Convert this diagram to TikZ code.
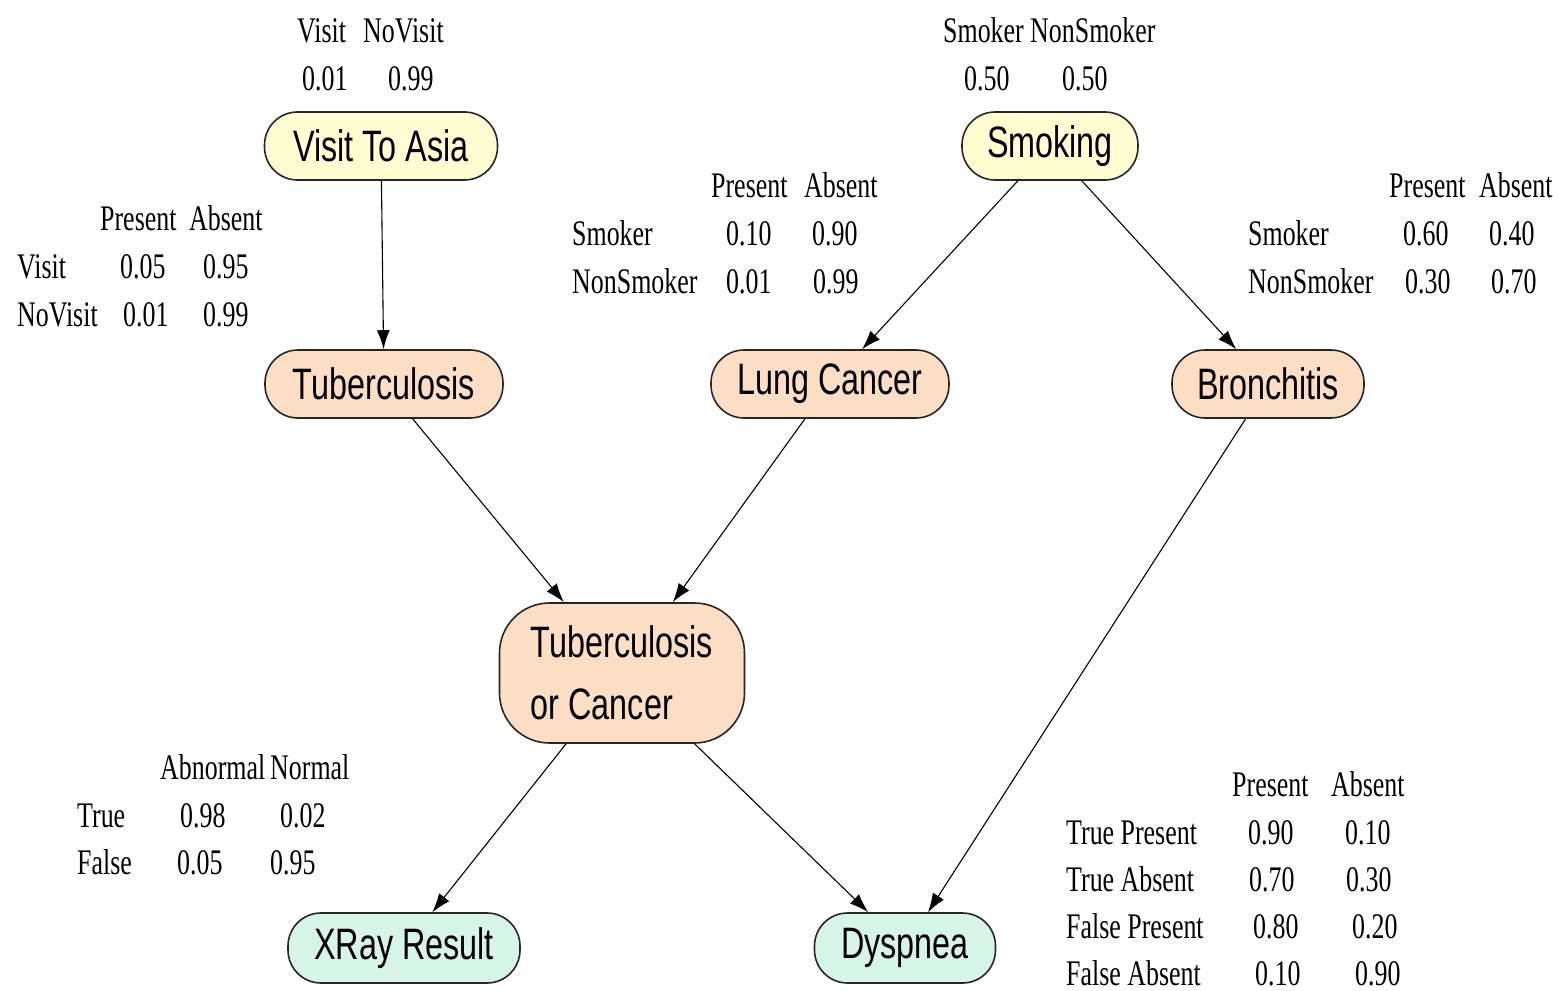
\documentclass[tikz,border=0pt]{standalone}
\usepackage{fontspec}
\usetikzlibrary{arrows.meta}

\newfontfamily\nodefont[FakeStretch=0.735]{Liberation Sans}
\newfontfamily\tabfont[FakeStretch=0.72]{Liberation Serif}

\definecolor{rootfill}{RGB}{255,255,210}
\definecolor{midfill}{RGB}{252,222,196}
\definecolor{leaffill}{RGB}{214,244,232}

\tikzset{
  var/.style={draw=black!85, line width=1.6pt, rounded corners=33pt,
    minimum height=68pt, inner sep=0pt, align=center,
    font=\nodefont\fontsize{44}{62}\selectfont},
  root/.style={var, fill=rootfill},
  mid/.style={var, fill=midfill},
  leaf/.style={var, fill=leaffill},
  cell/.style={anchor=base west, inner sep=0pt,
    font=\tabfont\fontsize{36}{40}\selectfont},
  link/.style={-{Latex[length=19pt,width=13pt]}, line width=1.1pt},
}

% one entry of a probability table: name, x, baseline y, text
\newcommand\cell[4]{\node[cell] (#1) at (#2,#3) {#4};}

\begin{document}
\begin{tikzpicture}[x=1pt,y=-1pt]
\useasboundingbox (0,0) rectangle (1559,991);

% variables
\node[root, minimum width=233pt] (asia) at (381,146) {Visit To Asia};
\node[root, minimum width=176pt] (smoke) at (1050,146) {Smoking};
\node[mid, minimum width=238pt] (tub) at (384,384) {Tuberculosis};
\node[mid, minimum width=238pt] (lung) at (830,384) {Lung Cancer};
\node[mid, minimum width=192pt] (bronc) at (1268,384) {Bronchitis};
\node[mid, minimum width=245pt, minimum height=140pt, rounded corners=50pt, align=left]
  (either) at (622,673) {Tuberculosis\\or Cancer};
\node[leaf, minimum width=232pt, minimum height=70pt] (xray) at (404,948) {XRay Result};
\node[leaf, minimum width=181pt, minimum height=70pt] (dysp) at (905,948) {Dyspnea};

% dependencies
\draw[link] (asia) -- (tub);
\draw[link] (smoke) -- (lung);
\draw[link] (smoke) -- (bronc);
\draw[link] (tub) -- (either);
\draw[link] (lung) -- (either);
\draw[link] (bronc) -- (dysp);
\draw[link] (either) -- (xray);
\draw[link] (either) -- (dysp);

% P(Visit To Asia)
\cell{aH1}{297}{42}{Visit}
\cell{aH2}{363}{42}{NoVisit}
\cell{aV1}{302}{90}{0.01}
\cell{aV2}{388}{90}{0.99}

% P(Smoking)
\cell{sH1}{943}{42}{Smoker}
\cell{sH2}{1030}{42}{NonSmoker}
\cell{sV1}{964}{90}{0.50}
\cell{sV2}{1062}{90}{0.50}

% P(Tuberculosis | Visit)
\cell{tH1}{100}{230}{Present}
\cell{tH2}{189}{230}{Absent}
\cell{tR1}{17}{278}{Visit}
\cell{tA1}{120}{278}{0.05}
\cell{tB1}{203}{278}{0.95}
\cell{tR2}{17}{326}{NoVisit}
\cell{tA2}{123}{326}{0.01}
\cell{tB2}{203}{326}{0.99}

% P(Lung Cancer | Smoking)
\cell{lH1}{711}{197}{Present}
\cell{lH2}{804}{197}{Absent}
\cell{lR1}{572}{245}{Smoker}
\cell{lA1}{726}{245}{0.10}
\cell{lB1}{812}{245}{0.90}
\cell{lR2}{572}{293}{NonSmoker}
\cell{lA2}{726}{293}{0.01}
\cell{lB2}{813}{293}{0.99}

% P(Bronchitis | Smoking)
\cell{bH1}{1389}{197}{Present}
\cell{bH2}{1479}{197}{Absent}
\cell{bR1}{1248}{245}{Smoker}
\cell{bA1}{1403}{245}{0.60}
\cell{bB1}{1489}{245}{0.40}
\cell{bR2}{1248}{293}{NonSmoker}
\cell{bA2}{1405}{293}{0.30}
\cell{bB2}{1491}{293}{0.70}

% P(XRay Result | Tuberculosis or Cancer)
\cell{xH1}{160}{779}{Abnormal}
\cell{xH2}{270}{779}{Normal}
\cell{xR1}{77}{827}{True}
\cell{xA1}{180}{827}{0.98}
\cell{xB1}{280}{827}{0.02}
\cell{xR2}{77}{874}{False}
\cell{xA2}{177}{874}{0.05}
\cell{xB2}{270}{874}{0.95}

% P(Dyspnea | Tuberculosis or Cancer, Bronchitis)
\cell{dH1}{1232}{796}{Present}
\cell{dH2}{1331}{796}{Absent}
\cell{dR1}{1066}{844}{True Present}
\cell{dA1}{1248}{844}{0.90}
\cell{dB1}{1345}{844}{0.10}
\cell{dR2}{1066}{891}{True Absent}
\cell{dA2}{1249}{891}{0.70}
\cell{dB2}{1346}{891}{0.30}
\cell{dR3}{1066}{938}{False Present}
\cell{dA3}{1253}{938}{0.80}
\cell{dB3}{1352}{938}{0.20}
\cell{dR4}{1066}{985}{False Absent}
\cell{dA4}{1255}{985}{0.10}
\cell{dB4}{1355}{985}{0.90}
\end{tikzpicture}
\end{document}
